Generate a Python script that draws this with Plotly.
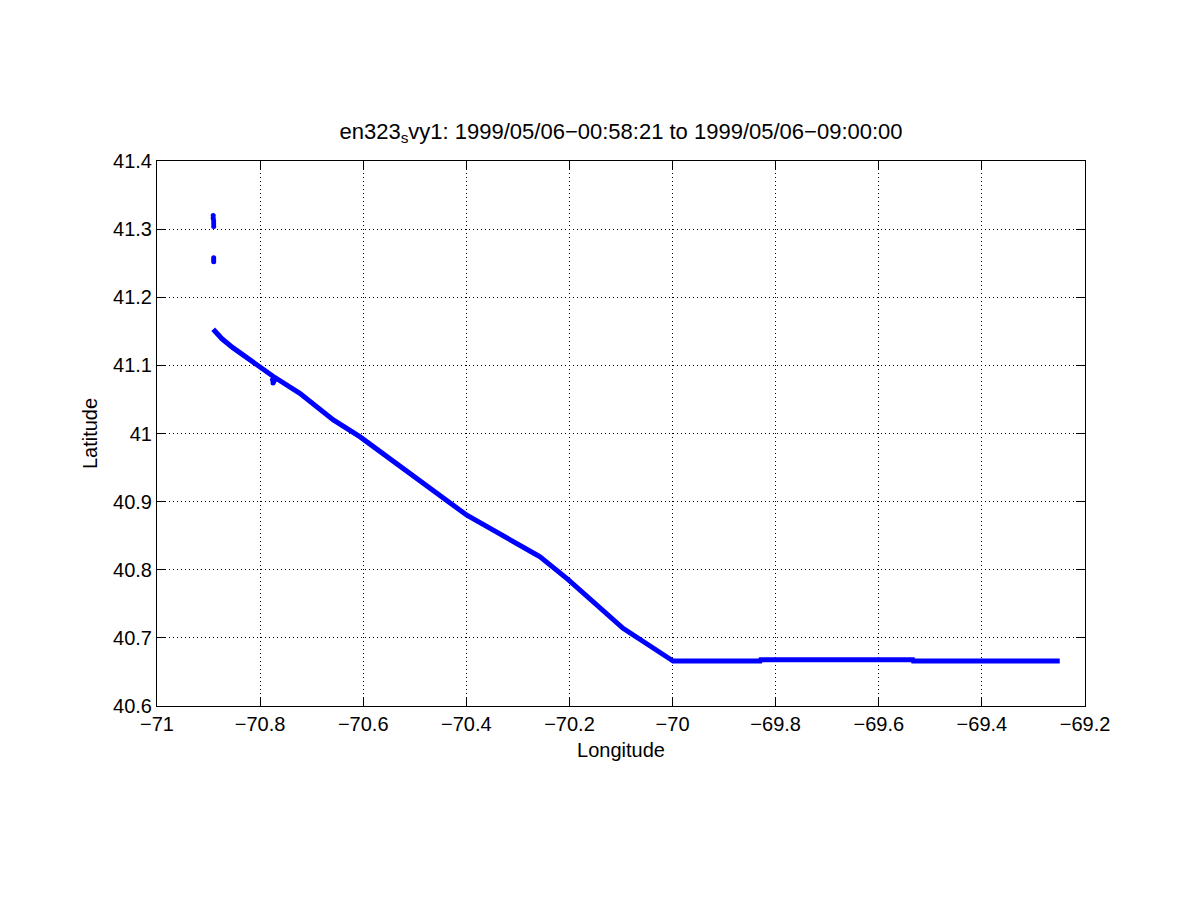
import plotly.graph_objects as go

# Ship track vertices (longitude, latitude)
track_lon = [-70.891, -70.874, -70.853, -70.814, -70.775, -70.723, -70.658, -70.606,
             -70.567, -70.529, -70.399, -70.264, -70.257, -70.203, -70.096, -70.005,
             -69.999, -69.830, -69.829, -69.534, -69.533, -69.249]
track_lat = [41.153, 41.139, 41.126, 41.105, 41.084, 41.059, 41.020, 40.995,
             40.973, 40.951, 40.880, 40.822, 40.819, 40.786, 40.714, 40.669,
             40.666, 40.666, 40.668, 40.668, 40.666, 40.666]

# Isolated fixes
outlier_lon = [-70.891, -70.891, -70.890, -70.890, -70.890, -70.890, -70.890, -70.890,
               -70.776, -70.774, -70.772, -70.775]
outlier_lat = [41.320, 41.316, 41.312, 41.308, 41.304, 41.258, 41.255, 41.252,
               41.079, 41.076, 41.078, 41.074]

x_ticks = [-71, -70.8, -70.6, -70.4, -70.2, -70, -69.8, -69.6, -69.4, -69.2]
x_labels = ["\u221271", "\u221270.8", "\u221270.6", "\u221270.4", "\u221270.2",
            "\u221270", "\u221269.8", "\u221269.6", "\u221269.4", "\u221269.2"]
y_ticks = [40.6, 40.7, 40.8, 40.9, 41.0, 41.1, 41.2, 41.3, 41.4]
y_labels = ["40.6", "40.7", "40.8", "40.9", "41", "41.1", "41.2", "41.3", "41.4"]

title_text = ("en323<sub>s</sub>vy1: 1999/05/06\u221200:58:21 to "
              "1999/05/06\u221209:00:00")

blue = "rgb(0,0,255)"
fig = go.Figure()
fig.add_trace(go.Scatter(x=track_lon, y=track_lat, mode="lines",
                         line=dict(color=blue, width=5), hoverinfo="x+y"))
fig.add_trace(go.Scatter(x=outlier_lon, y=outlier_lat, mode="markers",
                         marker=dict(color=blue, size=5, symbol="circle"),
                         hoverinfo="x+y"))

font_family = "Liberation Sans, Arial, Helvetica, sans-serif"
fs = 20
axis_common = dict(showline=True, linecolor="black", linewidth=1, mirror="ticks",
                   ticks="inside", ticklen=9, tickcolor="black",
                   showgrid=True, gridcolor="black", griddash="1px,3px", gridwidth=1,
                   zeroline=False, tickfont=dict(size=fs, color="black", family=font_family))

# page body adds ~8px offset; compensate
off = 8
L, T = 157 - off, 161 - off
PW, PH = 928, 545

fig.update_layout(
    width=1200, height=901,
    paper_bgcolor="white", plot_bgcolor="white",
    margin=dict(l=L, r=1200 - L - PW, t=T, b=901 - T - PH),
    showlegend=False,
    font=dict(family=font_family, color="black", size=fs),
    title=dict(text=title_text, x=(L + PW / 2) / 1200, xanchor="center",
               y=1 - (131 - off) / 901, yanchor="middle",
               font=dict(size=22, color="black", family=font_family)),
    xaxis=dict(range=[-71, -69.2], tickvals=x_ticks, ticktext=x_labels,
               title=dict(text="Longitude", standoff=8, font=dict(size=fs)),
               **axis_common),
    yaxis=dict(range=[40.6, 41.4], tickvals=y_ticks, ticktext=y_labels,
               title=dict(text="Latitude", standoff=10, font=dict(size=fs)),
               **axis_common),
)

fig.write_html("out.html")
